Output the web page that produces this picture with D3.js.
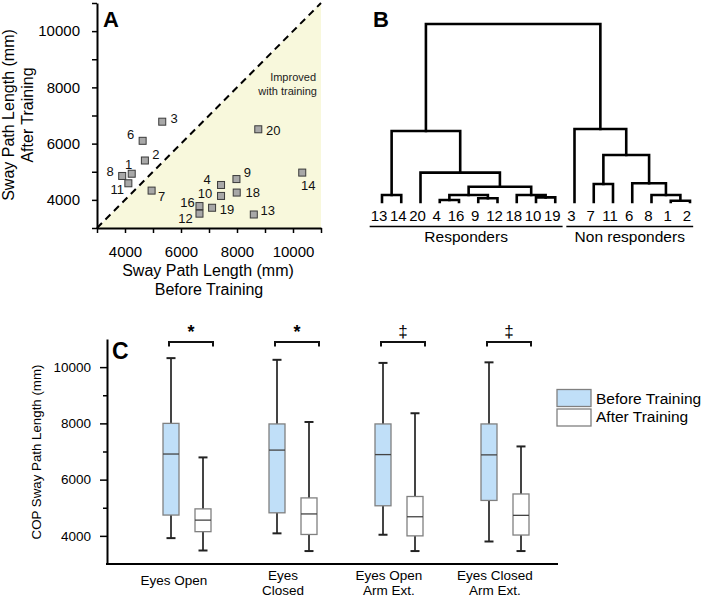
<!DOCTYPE html>
<html><head><meta charset="utf-8">
<script src="https://cdn.jsdelivr.net/npm/d3@7"></script>
<style>
body{margin:0;background:#fff}
svg{display:block;font-family:"Liberation Sans",Arial,sans-serif}
</style>
</head><body>
<svg id="chart" width="705" height="599"></svg>
<script>
// ---------- Panel A data (Eyes Open, per subject) ----------
const subjects   = ["1","2","3","4","6","7","8","9","10","11","12","13","14","16","18","19","20"];
const beforeVals = [4240,4710,5330,7430,4630,4950,3900,7980,7430,4120,6660,8600,10330,6660,7990,7110,8760];
const afterVals  = [4930,5400,6780,4530,6100,4330,4850,4740,4140,4590,3510,3480,4970,3780,4260,3720,6510];
const axisTicksA = [3000,4000,5000,6000,7000,8000,9000,10000,11000];

// ---------- Panel B data (dendrogram) ----------
const leafOrder = ["13","14","20","4","16","9","12","18","10","19","3","7","11","6","8","1","2"];
// merges: [childA, childB, linkage height]; "mN" refers to merge N
const merges = [
  ["4","16",1.1],   // m0
  ["9","12",2.1],   // m1
  ["m0","m1",3.9],  // m2
  ["10","19",2.6],  // m3
  ["18","m3",3.9],  // m4
  ["m2","m4",8.6],  // m5
  ["20","m5",16.5], // m6
  ["13","14",3.9],  // m7
  ["m7","m6",39.9], // m8
  ["1","2",0.7],    // m9
  ["8","m9",3.9],   // m10
  ["6","m10",10.5], // m11
  ["7","11",10.1],  // m12
  ["m12","m11",26.4], // m13
  ["3","m13",41.0], // m14
  ["m8","m14",100]  // m15
];
const groupNames  = ["Responders","Non responders"];
const groupLeaves = [["13","19"],["3","2"]];

// ---------- Panel C data (box plots) ----------
const conditions = ["Eyes Open","Eyes Closed","Eyes Open Arm Ext.","Eyes Closed Arm Ext."];
const conditionLines = [["Eyes Open"],["Eyes","Closed"],["Eyes Open","Arm Ext."],["Eyes Closed","Arm Ext."]];
const phases = ["Before Training","After Training"];
// [min, q1, median, q3, max]
const beforeStats = [
  [3920,4740,6910,8000,10320],
  [4090,4820,7050,7980,10260],
  [4040,5070,6890,7980,10150],
  [3800,5260,6880,7980,10170]
];
const afterStats = [
  [3480,4150,4560,4960,6790],
  [3460,4050,4780,5350,8050],
  [3460,4000,4680,5400,8360],
  [3460,4030,4730,5490,7180]
];
const significance = ["*","*","\u2021","\u2021"];
const axisTicksC = [4000,5000,6000,7000,8000,9000,10000];

const svg = d3.select("#chart");

// =================== PANEL A ===================
(function(){
  const x = d3.scaleLinear([3000,11000],[97,321]);
  const y = d3.scaleLinear([3000,11000],[228,3]);
  const g = svg.append("g");

  g.append("path")
    .attr("d", d3.line()([[x(3000),y(3000)],[x(11000),y(11000)],[x(11000),y(3000)]]) + "Z")
    .attr("fill","#f8f8dc");

  g.append("line")
    .attr("x1",x(3000)).attr("y1",y(3000)).attr("x2",x(11000)).attr("y2",y(11000))
    .attr("stroke","#000").attr("stroke-width",2).attr("stroke-dasharray","7,5");

  g.append("text").attr("x",316).attr("y",81).attr("text-anchor","end")
    .attr("font-size",11).attr("fill","#222").text("Improved");
  g.append("text").attr("x",317).attr("y",95).attr("text-anchor","end")
    .attr("font-size",11).attr("fill","#222").text("with training");

  const fmt = d => d % 2000 === 0 ? d : "";
  const xa = g.append("g").attr("transform",`translate(0,${y(3000)})`)
    .call(d3.axisBottom(x).tickValues(axisTicksA).tickFormat(fmt).tickSize(5).tickSizeOuter(0).tickPadding(13));
  const ya = g.append("g").attr("transform",`translate(${x(3000)},0)`)
    .call(d3.axisLeft(y).tickValues(axisTicksA).tickFormat(fmt).tickSize(5).tickSizeOuter(0).tickPadding(12));
  [xa,ya].forEach(a=>{
    a.attr("font-size",15).attr("font-family",null);
    a.select(".domain").attr("stroke-width",2);
    a.selectAll(".tick line").attr("stroke-width",1.5);
    a.selectAll("text").attr("font-size",15).attr("fill","#000");
  });

  const labelOffset = {
    "1":[-3,-9],"2":[11,-6],"3":[12,-3],"4":[-14,-6],"6":[-12,-6],"7":[10,6],"8":[-12,-5],
    "9":[11,-7],"10":[-16,-2],"11":[-11,6],"12":[-14,5],"13":[14,-4],"14":[6,13],"16":[-12,-4],
    "18":[16,0],"19":[15,2],"20":[15,1]
  };
  const pts = subjects.map((s,i)=>({id:s,b:beforeVals[i],a:afterVals[i]}));
  g.selectAll("rect.pt").data(pts).join("rect").attr("class","pt")
    .attr("x",d=>x(d.b)-3.5).attr("y",d=>y(d.a)-3.5).attr("width",7).attr("height",7)
    .attr("fill","#a8a8a8").attr("stroke","#3a3a3a").attr("stroke-width",1);
  g.selectAll("text.lbl").data(pts).join("text").attr("class","lbl")
    .attr("x",d=>x(d.b)+labelOffset[d.id][0]).attr("y",d=>y(d.a)+labelOffset[d.id][1])
    .attr("dy","0.35em").attr("text-anchor","middle").attr("font-size",13).attr("fill","#111")
    .text(d=>d.id);

  g.append("text").attr("x",103).attr("y",27).attr("font-size",22).attr("font-weight","bold").text("A");

  g.append("text").attr("transform","translate(14,115) rotate(-90)").attr("text-anchor","middle")
    .attr("font-size",16).text("Sway Path Length (mm)");
  g.append("text").attr("transform","translate(33,115) rotate(-90)").attr("text-anchor","middle")
    .attr("font-size",16).text("After Training");
  g.append("text").attr("x",208).attr("y",276).attr("text-anchor","middle")
    .attr("font-size",16).text("Sway Path Length (mm)");
  g.append("text").attr("x",209).attr("y",295).attr("text-anchor","middle")
    .attr("font-size",16).text("Before Training");
})();

// =================== PANEL B ===================
(function(){
  const x = d3.scalePoint(leafOrder,[382,690]);
  const y = d3.scaleLinear([0,100],[202,24]);
  const g = svg.append("g");
  const nodes = {};
  leafOrder.forEach(l=>nodes[l]={x:x(l),h:0});
  merges.forEach((m,i)=>{
    const a=nodes[m[0]], b=nodes[m[1]];
    nodes["m"+i]={x:(a.x+b.x)/2,h:m[2],a,b};
  });
  const paths = merges.map((m,i)=>{
    const n=nodes["m"+i];
    return `M${n.a.x},${y(n.a.h)}V${y(n.h)}H${n.b.x}V${y(n.b.h)}`;
  });
  g.selectAll("path.dn").data(paths).join("path").attr("class","dn").attr("d",d=>d)
    .attr("fill","none").attr("stroke","#000").attr("stroke-width",2.6).attr("stroke-linecap","square");

  const labels = g.selectAll("text.leaf").data(leafOrder).join("text").attr("class","leaf")
    .attr("x",d=>x(d)-3).attr("y",221).attr("text-anchor","middle").attr("font-size",15).text(d=>d);
  const ext = {};
  labels.each(function(d){ const w=this.getComputedTextLength(); ext[d]=[x(d)-3-w/2, x(d)-3+w/2]; });

  groupNames.forEach((nm,i)=>{
    const x0 = ext[groupLeaves[i][0]][0] - 1, x1 = ext[groupLeaves[i][1]][1] + 2;
    g.append("line").attr("x1",x0).attr("x2",x1).attr("y1",226.5).attr("y2",226.5)
      .attr("stroke","#000").attr("stroke-width",1.5);
    g.append("text").attr("x",(x0+x1)/2).attr("y",242).attr("text-anchor","middle").attr("font-size",15.5).text(nm);
  });
  g.append("text").attr("x",373).attr("y",27).attr("font-size",22).attr("font-weight","bold").text("B");
})();

// =================== PANEL C ===================
(function(){
  const x = d3.scaleBand(conditions,[134,558]);
  const sub = d3.scaleBand(phases,[21,85]);
  const y = d3.scaleLinear([3000,11000],[564,339]);
  const g = svg.append("g");
  const bw = 16, cap = 9;
  const fills = {"Before Training":"#c0dff8","After Training":"#ffffff"};

  const ya = g.append("g").attr("transform",`translate(107,0)`)
    .call(d3.axisLeft(y).tickValues(axisTicksC).tickFormat(d=>d%2000===0?d:"").tickSize(7).tickSizeOuter(0).tickPadding(9));
  ya.attr("font-size",13.5).attr("font-family",null);
  ya.select(".domain").attr("stroke-width",2);
  ya.selectAll(".tick line").attr("stroke-width",1.5).attr("x2",d=>d%2000===0?-7:-4);
  ya.selectAll("text").attr("font-size",13.5).attr("fill","#000");
  g.append("line").attr("x1",106).attr("x2",558).attr("y1",564).attr("y2",564).attr("stroke","#000").attr("stroke-width",2);

  g.append("text").attr("transform","translate(41,452) rotate(-90)").attr("text-anchor","middle")
    .attr("font-size",13.3).text("COP Sway Path Length (mm)");
  g.append("text").attr("x",112).attr("y",359).attr("font-size",23).attr("font-weight","bold").text("C");

  conditions.forEach((c,i)=>{
    [[phases[0],beforeStats[i]],[phases[1],afterStats[i]]].forEach(([p,s])=>{
      const cx = x(c)+sub(p)+sub.bandwidth()/2;
      const bg = g.append("g");
      bg.append("line").attr("x1",cx).attr("x2",cx).attr("y1",y(s[4])).attr("y2",y(s[3]))
        .attr("stroke","#444").attr("stroke-width",2);
      bg.append("line").attr("x1",cx).attr("x2",cx).attr("y1",y(s[1])).attr("y2",y(s[0]))
        .attr("stroke","#444").attr("stroke-width",2);
      [s[0],s[4]].forEach(v=>bg.append("line").attr("x1",cx-cap/2).attr("x2",cx+cap/2)
        .attr("y1",y(v)).attr("y2",y(v)).attr("stroke","#222").attr("stroke-width",2));
      bg.append("rect").attr("x",cx-bw/2).attr("y",y(s[3])).attr("width",bw).attr("height",y(s[1])-y(s[3]))
        .attr("fill",fills[p]).attr("stroke","#808080").attr("stroke-width",1.3);
      bg.append("line").attr("x1",cx-bw/2).attr("x2",cx+bw/2).attr("y1",y(s[2])).attr("y2",y(s[2]))
        .attr("stroke","#444").attr("stroke-width",1.3);
    });
    const bx0 = x(c)+sub(phases[0])+sub.bandwidth()/2-2;
    const bx1 = x(c)+sub(phases[1])+sub.bandwidth()/2+10;
    g.append("path").attr("d",`M${bx0},346.5V342H${bx1}V346.5`).attr("fill","none")
      .attr("stroke","#111").attr("stroke-width",2);
    const star = significance[i]==="*";
    g.append("text").attr("x",(bx0+bx1)/2).attr("y",star?338:337)
      .attr("text-anchor","middle").attr("font-size",star?18:17).attr("font-weight",star?"bold":"normal")
      .attr("fill","#000").text(significance[i]);
    const lines = conditionLines[i];
    const lx = x(c)+x.bandwidth()/2-(i===0?13:10);
    lines.forEach((ln,k)=>{
      g.append("text").attr("x",lx).attr("y",lines.length===1?585:580+k*15)
        .attr("text-anchor","middle").attr("font-size",13.5).text(ln);
    });
  });

  phases.forEach((p,i)=>{
    g.append("rect").attr("x",557).attr("y",389.5+i*19.5).attr("width",34).attr("height",17)
      .attr("fill",fills[p]).attr("stroke","#808080").attr("stroke-width",1.3);
    g.append("text").attr("x",596).attr("y",404+i*18).attr("font-size",15.5).text(p);
  });
})();
</script>
</body></html>
